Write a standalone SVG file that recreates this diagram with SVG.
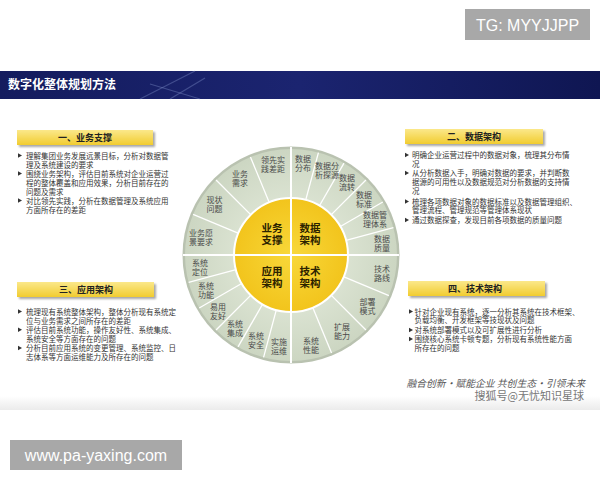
<svg xmlns="http://www.w3.org/2000/svg" width="600" height="480" viewBox="0 0 600 480">
<defs>
<linearGradient id="navy" x1="0" y1="0" x2="1" y2="0">
<stop offset="0" stop-color="#141c5e"/><stop offset="0.5" stop-color="#1b2470"/><stop offset="1" stop-color="#0f1652"/>
</linearGradient>
<linearGradient id="ybox" x1="0" y1="0" x2="0" y2="1">
<stop offset="0" stop-color="#fbe88a"/><stop offset="1" stop-color="#f1cc30"/>
</linearGradient>
<radialGradient id="ycore" cx="0.5" cy="0.5" r="0.5">
<stop offset="0" stop-color="#f8d83a"/><stop offset="1" stop-color="#f2c41c"/>
</radialGradient>
<radialGradient id="ring" cx="0.5" cy="0.5" r="0.5">
<stop offset="0.5" stop-color="#dbe3d2"/><stop offset="1" stop-color="#ccd6c2"/>
</radialGradient>
<linearGradient id="floor" x1="0" y1="0" x2="0" y2="1">
<stop offset="0" stop-color="#ffffff"/><stop offset="1" stop-color="#ebebeb"/>
</linearGradient>
<filter id="sh" x="-10%" y="-30%" width="130%" height="180%">
<feGaussianBlur in="SourceAlpha" stdDeviation="1.2"/><feOffset dx="2" dy="2"/>
<feComponentTransfer><feFuncA type="linear" slope="0.35"/></feComponentTransfer>
<feMerge><feMergeNode/><feMergeNode in="SourceGraphic"/></feMerge>
</filter>
<polygon id="bul" points="0,-2.3 4,0 0,2.3" fill="#333"/>
</defs>
<style>
.t{font-family:"Noto Sans CJK SC","Noto Sans",sans-serif;}
.body{font-size:7.5px;fill:#333;}
.hd{font-size:9px;font-weight:bold;fill:#222;text-anchor:middle;}
.seg{font-size:8px;fill:#4a4a4a;text-anchor:middle;}
.core{font-size:10.5px;font-weight:bold;fill:#2b2200;text-anchor:middle;}
.div{stroke:#ffffff;stroke-width:1.3;}
</style>
<rect width="600" height="480" fill="#ffffff"/>
<rect x="0" y="396" width="600" height="14" fill="url(#floor)"/>

<!-- title bar -->
<g id="title">
<rect x="0" y="71" width="600" height="28" fill="url(#navy)"/>
<g stroke="#8fa0d8" stroke-opacity="0.35" stroke-width="1.2">
<line x1="140" y1="99" x2="195" y2="71"/>
<line x1="150" y1="84" x2="200" y2="99"/>
<line x1="170" y1="99" x2="205" y2="78"/>
</g>
<text class="t" x="8" y="89" font-size="12" font-weight="bold" fill="#ffffff">数字化整体规划方法</text>
</g>

<!-- watermark top -->
<g id="wm-top">
<rect x="465" y="9" width="125" height="31" fill="#a8a8a8"/>
<text x="527.5" y="31" font-family="Liberation Sans, Arial, sans-serif" font-size="16" fill="#ffffff" text-anchor="middle">TG: MYYJJPP</text>
</g>

<!-- box 1 -->
<g id="box1">
<rect x="17" y="130" width="136" height="15" fill="url(#ybox)" filter="url(#sh)"/>
<text class="t hd" x="85" y="141">一、业务支撑</text>
<use href="#bul" x="18" y="155.5"/><use href="#bul" x="18" y="173.5"/><use href="#bul" x="18" y="200.5"/>
<text class="t body" x="26" y="158.5">理解集团业务发展远景目标，分析对数据管</text>
<text class="t body" x="26" y="167.5">理及系统建设的要求</text>
<text class="t body" x="26" y="176.5">围绕业务架构，评估目前系统对企业运营过</text>
<text class="t body" x="26" y="185.5">程的整体覆盖和应用效果，分析目前存在的</text>
<text class="t body" x="26" y="194.5">问题及需求</text>
<text class="t body" x="26" y="203.5">对比领先实践，分析在数据管理及系统应用</text>
<text class="t body" x="26" y="212.5">方面所存在的差距</text>
</g>

<!-- box 3 -->
<g id="box3">
<rect x="17" y="282" width="137" height="15" fill="url(#ybox)" filter="url(#sh)"/>
<text class="t hd" x="86" y="293">三、应用架构</text>
<use href="#bul" x="18" y="311.5"/><use href="#bul" x="18" y="329.8"/><use href="#bul" x="18" y="348"/>
<text class="t body" x="26" y="314.5">梳理现有系统整体架构，整体分析现有系统定</text>
<text class="t body" x="26" y="323.5">位与业务需求之间所存在的差距</text>
<text class="t body" x="26" y="332.8">评估目前系统功能，操作友好性、系统集成、</text>
<text class="t body" x="26" y="341.8">系统安全等方面存在的问题</text>
<text class="t body" x="26" y="351">分析目前应用系统的变更管理、系统监控、日</text>
<text class="t body" x="26" y="360">志体系等方面运维能力及所存在的问题</text>
</g>

<!-- box 2 -->
<g id="box2">
<rect x="405" y="129" width="138" height="15" fill="url(#ybox)" filter="url(#sh)"/>
<text class="t hd" x="474" y="140">二、数据架构</text>
<use href="#bul" x="405" y="155"/><use href="#bul" x="405" y="173"/><use href="#bul" x="405" y="201.5"/><use href="#bul" x="405" y="220"/>
<text class="t body" x="412" y="158">明确企业运营过程中的数据对象，梳理其分布情</text>
<text class="t body" x="412" y="166.5">况</text>
<text class="t body" x="412" y="176">从分析数据入手，明确对数据的要求，并判断数</text>
<text class="t body" x="412" y="184.5">据源的可用性以及数据规范对分析数据的支持情</text>
<text class="t body" x="412" y="193.5">况</text>
<text class="t body" x="412" y="204.5">梳理各项数据对象的数据标准以及数据管理组织、</text>
<text class="t body" x="412" y="213">管理流程、管理规范等管理体系现状</text>
<text class="t body" x="412" y="223">通过数据探查，发现目前各项数据的质量问题</text>
</g>

<!-- box 4 -->
<g id="box4">
<rect x="408" y="281" width="137" height="15" fill="url(#ybox)" filter="url(#sh)"/>
<text class="t hd" x="475" y="292">四、技术架构</text>
<use href="#bul" x="409" y="311.5"/><use href="#bul" x="409" y="330"/><use href="#bul" x="409" y="339"/>
<text class="t body" x="414.5" y="314.5">针对企业现有系统，逐一分析其系统在技术框架、</text>
<text class="t body" x="414.5" y="323">负载均衡、开发框架等技现状及问题</text>
<text class="t body" x="414.5" y="333">对系统部署模式以及可扩展性进行分析</text>
<text class="t body" x="414.5" y="342">围绕核心系统卡顿专题，分析现有系统性能方面</text>
<text class="t body" x="414.5" y="350.5">所存在的问题</text>
</g>

<!-- wheel -->
<g id="wheel">
<circle cx="291" cy="255" r="108.5" fill="#b9c2b0"/>
<circle cx="291" cy="255" r="106" fill="url(#ring)"/>
<g id="connectors" class="div">
<line x1="269.57" y1="203.26" x2="250.44" y2="157.07"/>
<line x1="251.40" y1="215.40" x2="216.05" y2="180.05"/>
<line x1="239.26" y1="233.57" x2="193.07" y2="214.44"/>
<line x1="305.49" y1="200.91" x2="318.43" y2="152.61"/>
<line x1="319" y1="206.50" x2="344" y2="163.20"/>
<line x1="330.60" y1="215.40" x2="365.95" y2="180.05"/>
<line x1="339.50" y1="227" x2="382.80" y2="202"/>
<line x1="345.09" y1="240.51" x2="393.39" y2="227.57"/>
<line x1="236.91" y1="269.49" x2="188.61" y2="282.43"/>
<line x1="242.50" y1="283" x2="199.20" y2="308"/>
<line x1="251.40" y1="294.60" x2="216.05" y2="329.95"/>
<line x1="263" y1="303.50" x2="238" y2="346.80"/>
<line x1="276.51" y1="309.09" x2="263.57" y2="357.39"/>
<line x1="312.43" y1="306.74" x2="331.56" y2="352.93"/>
<line x1="330.60" y1="294.60" x2="365.95" y2="329.95"/>
<line x1="342.74" y1="276.43" x2="388.93" y2="295.56"/>
</g>
<circle cx="291" cy="255" r="57" fill="url(#ycore)" stroke="#ffffff" stroke-width="2"/>
<line x1="183" y1="255" x2="399" y2="255" stroke="#ffffff" stroke-width="2"/>
<line x1="291" y1="147" x2="291" y2="363" stroke="#ffffff" stroke-width="2"/>
</g>

<g id="core-biz"><text class="t core" x="272" y="232"><tspan x="272">业务</tspan><tspan x="272" dy="11.5">支撑</tspan></text></g>
<g id="core-data"><text class="t core" x="310" y="232"><tspan x="310">数据</tspan><tspan x="310" dy="11.5">架构</tspan></text></g>
<g id="core-app"><text class="t core" x="272" y="275"><tspan x="272">应用</tspan><tspan x="272" dy="11.5">架构</tspan></text></g>
<g id="core-tech"><text class="t core" x="310" y="275"><tspan x="310">技术</tspan><tspan x="310" dy="11.5">架构</tspan></text></g>

<g id="segments" class="t seg">
<text x="273" y="163"><tspan x="273">领先实</tspan><tspan x="273" dy="9">践差距</tspan></text>
<text x="240" y="177"><tspan x="240">业务</tspan><tspan x="240" dy="9">需求</tspan></text>
<text x="214.5" y="202.5"><tspan x="214.5">现状</tspan><tspan x="214.5" dy="9">问题</tspan></text>
<text x="201" y="235.5"><tspan x="201">业务愿</tspan><tspan x="201" dy="9">景要求</tspan></text>
<text x="303" y="162.3"><tspan x="303">数据</tspan><tspan x="303" dy="9">分布</tspan></text>
<text x="327" y="168.5"><tspan x="327">数据分</tspan><tspan x="327" dy="9">析探源</tspan></text>
<text x="347" y="180.5"><tspan x="347">数据</tspan><tspan x="347" dy="9">流转</tspan></text>
<text x="364" y="197.5"><tspan x="364">数据</tspan><tspan x="364" dy="9">标准</tspan></text>
<text x="375" y="218.3"><tspan x="375">数据管</tspan><tspan x="375" dy="9">理体系</tspan></text>
<text x="382" y="241.5"><tspan x="382">数据</tspan><tspan x="382" dy="9">质量</tspan></text>
<text x="200" y="265.5"><tspan x="200">系统</tspan><tspan x="200" dy="9">定位</tspan></text>
<text x="206" y="288.7"><tspan x="206">系统</tspan><tspan x="206" dy="9">功能</tspan></text>
<text x="218" y="309.5"><tspan x="218">易用</tspan><tspan x="218" dy="9">友好</tspan></text>
<text x="235" y="326.5"><tspan x="235">系统</tspan><tspan x="235" dy="9">集成</tspan></text>
<text x="256" y="338.5"><tspan x="256">系统</tspan><tspan x="256" dy="9">安全</tspan></text>
<text x="279" y="344.7"><tspan x="279">实施</tspan><tspan x="279" dy="9">运维</tspan></text>
<text x="311" y="343.7"><tspan x="311">系统</tspan><tspan x="311" dy="9">性能</tspan></text>
<text x="342" y="330"><tspan x="342">扩展</tspan><tspan x="342" dy="9">能力</tspan></text>
<text x="367.5" y="304.6"><tspan x="367.5">部署</tspan><tspan x="367.5" dy="9">模式</tspan></text>
<text x="382" y="271.5"><tspan x="382">技术</tspan><tspan x="382" dy="9">路线</tspan></text>
</g>

<!-- slogans -->
<g id="slogan">
<text class="t" x="585" y="387" font-size="9.8" font-style="italic" fill="#555" text-anchor="end">融合创新·赋能企业  共创生态·引领未来</text>
<text class="t" x="584" y="400" font-size="11" fill="#777" text-anchor="end">搜狐号@无忧知识星球</text>
</g>

<!-- watermark bottom -->
<g id="wm-bottom">
<rect x="10" y="440" width="172" height="30" fill="#a8a8a8"/>
<text x="96" y="461" font-family="Liberation Sans, Arial, sans-serif" font-size="16" fill="#ffffff" text-anchor="middle">www.pa-yaxing.com</text>
</g>
</svg>
